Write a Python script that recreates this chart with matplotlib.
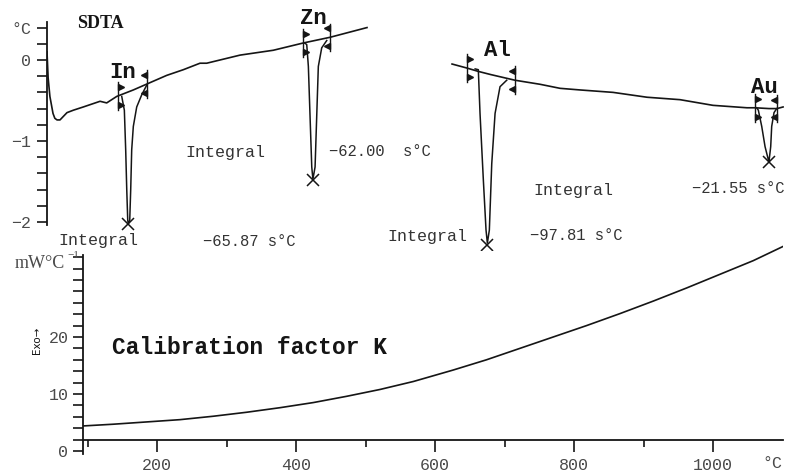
"""SDTA melting peaks of In, Zn, Al, Au and the resulting calibration factor K."""
import numpy as np
import matplotlib
matplotlib.use("Agg")
import matplotlib.pyplot as plt

W, H = 789, 472
MONO = ["Liberation Mono", "DejaVu Sans Mono"]
plt.rcParams["font.family"] = MONO

# SDTA signal, first recorded run (temperature degC, signal degC)
seg1_t = [41.9, 43.5, 46.0, 50.4, 53.0, 56.1, 60.3, 70.2, 79.2, 93.3, 117.0, 126.4,
          140.6, 164.1, 187.7, 211.4, 234.9, 258.5, 268.0, 315.2, 362.3, 404.8, 442.6, 494.9]
seg1_v = [0.10, -0.22, -0.45, -0.66, -0.72, -0.74, -0.74, -0.65, -0.62, -0.58, -0.51, -0.53,
          -0.45, -0.37, -0.28, -0.19, -0.12, -0.04, -0.04, 0.06, 0.12, 0.21, 0.28, 0.40]
# second run
seg2_t = [615.3, 636.5, 652.0, 670.0, 704.4, 739.8, 768.2, 796.5, 843.2, 891.3, 938.0,
          984.7, 1032.8, 1044.2, 1064.0, 1075.4, 1083.9]
seg2_v = [-0.05, -0.10, -0.14, -0.18, -0.25, -0.30, -0.35, -0.37, -0.40, -0.46, -0.49,
          -0.56, -0.59, -0.59, -0.60, -0.60, -0.58]

# melting dips
in_dip_t = [147.7, 151.4, 153.3, 154.8, 156.2, 157.0, 159.0, 160.4, 161.8, 164.1, 168.9, 176.0, 183.1]
in_dip_v = [-0.45, -0.62, -1.11, -1.60, -1.98, -2.02, -1.98, -1.60, -1.11, -0.82, -0.58, -0.43, -0.31]
zn_dip_t = [406.5, 409.6, 411.9, 414.3, 416.7, 418.3, 419.8, 421.4, 423.7, 426.0, 430.8, 437.9]
zn_dip_v = [0.21, 0.19, -0.08, -0.70, -1.32, -1.47, -1.40, -1.32, -0.70, -0.08, 0.15, 0.24]
al_dip_t = [648.0, 652.5, 654.9, 659.6, 663.4, 665.3, 668.1, 671.5, 676.2, 683.2, 692.7]
al_dip_v = [-0.11, -0.12, -0.66, -1.48, -2.10, -2.26, -2.10, -1.28, -0.66, -0.33, -0.25]
au_dip_t = [1046.5, 1048.9, 1053.7, 1058.4, 1063.0, 1064.0, 1066.4, 1067.8, 1071.1, 1074.9]
au_dip_v = [-0.59, -0.62, -0.82, -1.07, -1.23, -1.25, -1.07, -0.82, -0.65, -0.60]

metals = ["In", "Zn", "Al", "Au"]
onset_t = [142.4, 404.3, 636.5, 1044.2]
end_t = [183.5, 442.6, 704.4, 1075.4]
peak_t = [157.0, 418.3, 665.3, 1064.0]
peak_v = [-2.02, -1.48, -2.28, -1.26]
integrals = ["\u221265.87 s\u00b0C", "\u221262.00  s\u00b0C", "\u221297.81 s\u00b0C", "\u221221.55 s\u00b0C"]

# calibration factor K (mW/degC) vs temperature
k_t = [94, 137, 185, 233, 281, 329, 377, 425, 473, 521, 569, 626, 674, 722, 770,
       818, 866, 914, 962, 1010, 1058, 1101]
k_v = [4.4, 4.7, 5.1, 5.5, 6.1, 6.8, 7.6, 8.5, 9.6, 10.8, 12.2, 14.2, 16.0, 18.0, 20.0,
       22.0, 24.1, 26.3, 28.6, 31.0, 33.4, 35.9]

INK = "#151515"
GREY = "#4a4a4a"

fig = plt.figure(figsize=(W / 100, H / 100), dpi=100)


def px_axes(x0, y0, x1, y1):
    ax = fig.add_axes([x0 / W, 1 - y1 / H, (x1 - x0) / W, (y1 - y0) / H])
    ax.patch.set_alpha(0)
    return ax


def px_text(x, y, s, **kw):
    fig.text(x / W, 1 - y / H, s, **kw)


# ---- bottom panel: calibration factor ----
ak = px_axes(83, 240.1, 783, 472.1)
ak.set_xlim(93.5, 1100.7)
ak.set_ylim(-3.7, 37)
ak.plot(k_t, k_v, color=INK, lw=1.2)
for s in ("top", "right"):
    ak.spines[s].set_visible(False)
ak.spines["bottom"].set_position(("data", 1.9))
ak.spines["left"].set_bounds(-0.6, 34.3)
for s in ("bottom", "left"):
    ak.spines[s].set_linewidth(1.3)
    ak.spines[s].set_color(INK)
ak.set_xticks([200, 400, 600, 800, 1000])
ak.set_xticks([100, 300, 500, 700, 900], minor=True)
kt = np.arange(0, 35, 2)
ak.set_yticks(kt)
ak.set_yticklabels([str(v) if v in (0, 10, 20) else "" for v in kt])
ak.tick_params(axis="x", which="major", length=8.5, width=1.2, color=INK, pad=4,
               labelsize=12, labelcolor=GREY)
ak.tick_params(axis="x", which="minor", length=5, width=1.2, color=INK)
ak.tick_params(axis="y", length=7.5, width=1.2, color=INK, pad=3,
               labelsize=12, labelcolor=GREY)

# ---- top panel: SDTA curves ----
at = px_axes(47, 21.9, 789, 250.35)
at.set_xlim(41.9, 1092.3)
at.set_ylim(-2.35, 0.47)
for s in ("top", "right", "bottom"):
    at.spines[s].set_visible(False)
at.spines["left"].set_bounds(-2.04, 0.47)
at.spines["left"].set_linewidth(1.3)
at.spines["left"].set_color(INK)
at.set_xticks([])
tt = np.round(np.arange(-10, 3) * 0.2, 1)
lab = {-2.0: "\u22122", -1.0: "\u22121", 0.0: "0", 0.4: "\u00b0C"}
at.set_yticks(tt)
at.set_yticklabels([lab.get(v, "") for v in tt])
at.tick_params(axis="y", length=7.5, width=1.2, color=INK, pad=4,
               labelsize=12, labelcolor=GREY)

at.plot(seg1_t, seg1_v, color=INK, lw=1.2)
at.plot(seg2_t, seg2_v, color=INK, lw=1.2)
for dt, dv in [(in_dip_t, in_dip_v), (zn_dip_t, zn_dip_v),
               (al_dip_t, al_dip_v), (au_dip_t, au_dip_v)]:
    at.plot(dt, dv, color=INK, lw=1.1)

base_t = seg1_t + seg2_t
base_v = seg1_v + seg2_v
for t0, t1 in zip(onset_t, end_t):
    for t, m, dx in [(t0, ">", 4.5), (t1, "<", -4.5)]:
        b = np.interp(t, base_t, base_v)
        at.plot([t, t], [b - 0.17, b + 0.17], color=INK, lw=1.0)
        at.plot([t + dx, t + dx], [b + 0.11, b - 0.11], ls="none", marker=m,
                ms=5, color=INK)
at.plot(peak_t, peak_v, ls="none", marker="x", ms=9, mew=1.1, color=INK)

# ---- annotations ----
px_text(100, 23, "SDTA", fontsize=13, fontweight="bold",
        family=["Liberation Serif", "DejaVu Serif"], ha="center", va="center", color=INK)
for name, (x, y) in zip(metals, [(123, 73), (313, 19), (497, 50), (764, 87)]):
    px_text(x, y, name, fontsize=16, fontweight="bold", ha="center", va="center", color=INK)

int_pos = [((58, 240), (203, 241)), ((185, 152), (329, 152)),
           ((387, 237), (530, 236)), ((533, 190), (692, 189))]
for s, (p1, p2) in zip(integrals, int_pos):
    px_text(p1[0], p1[1], "Integral", fontsize=12, ha="left", va="center", color="#333333")
    px_text(p2[0], p2[1], s, fontsize=11.2, ha="left", va="center", color="#333333")

px_text(112, 347, "Calibration factor K", fontsize=16.5, fontweight="bold",
        ha="left", va="center", color=INK)
px_text(15, 263, "mW\u00b0C", fontsize=13, family=["Liberation Serif", "DejaVu Serif"],
        ha="left", va="center", color=GREY)
px_text(67, 256, "\u22121", fontsize=8, family=["Liberation Serif", "DejaVu Serif"],
        ha="left", va="center", color=GREY)
px_text(37, 340, "Exo\u2192", fontsize=7.5, family=["DejaVu Sans"], rotation=90,
        ha="center", va="center", color=INK)
px_text(772, 463, "\u00b0C", fontsize=12, ha="center", va="center", color=GREY)

fig.savefig("out.png", dpi=100)
